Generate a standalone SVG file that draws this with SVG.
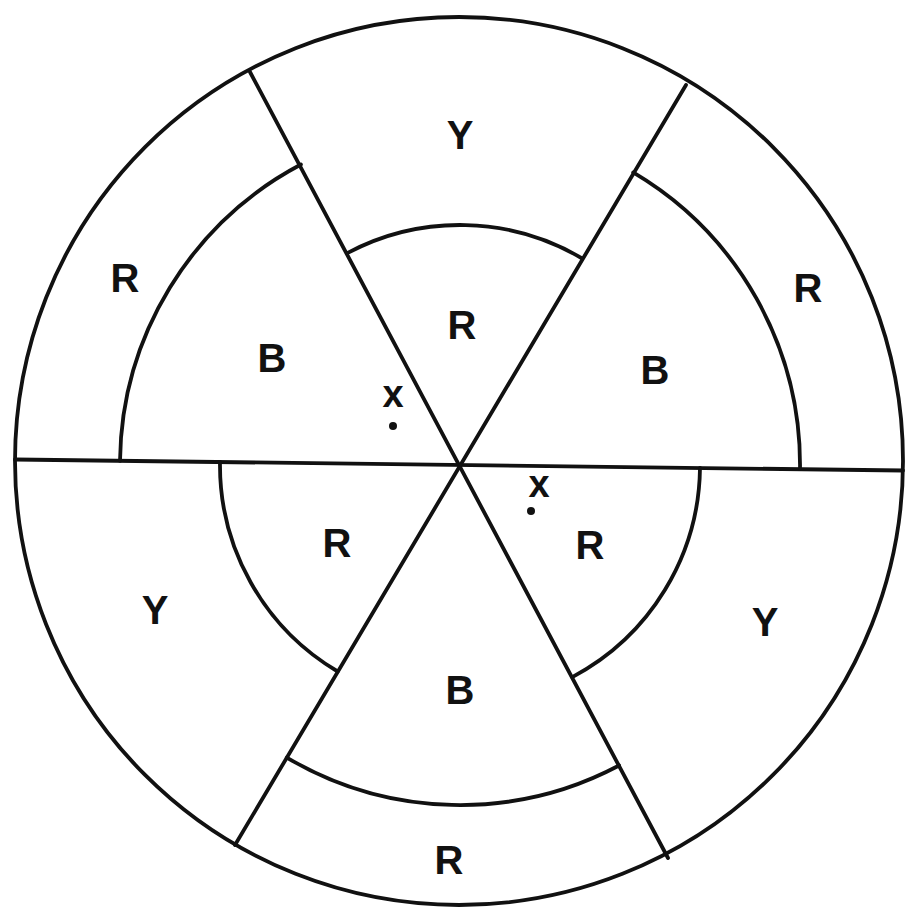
<svg xmlns="http://www.w3.org/2000/svg" width="905" height="909" viewBox="0 0 905 909">
<style>
.ln{fill:none;stroke:#111;stroke-width:3.8;stroke-linecap:round}
.lb{font-family:"Liberation Sans",Arial,sans-serif;font-weight:bold;font-size:40px;fill:#111;text-anchor:middle;dominant-baseline:central}
.xm{font-family:"Liberation Sans",Arial,sans-serif;font-weight:bold;font-size:38px;fill:#111;text-anchor:middle;dominant-baseline:central}
</style>
<rect width="905" height="909" fill="#fff"/>
<g id="connectors">
<circle class="ln" cx="459" cy="461" r="444"/>
<line class="ln" x1="15" y1="459.5" x2="903" y2="470.5"/>
<line class="ln" x1="250" y1="72" x2="668" y2="858"/>
<line class="ln" x1="686" y1="85" x2="235" y2="845"/>
<path class="ln" d="M347.7,252.9 A240,240 0 0 1 582.3,258.5"/>
<path class="ln" d="M120,460.8 A340,340 0 0 1 300.9,164.5"/>
<path class="ln" d="M633.2,172.4 A340,340 0 0 1 800,469.2"/>
<path class="ln" d="M700,468 A240,240 0 0 1 572.3,677.1"/>
<path class="ln" d="M619.1,765.5 A340,340 0 0 1 286.8,757.6"/>
<path class="ln" d="M337.7,671.5 A240,240 0 0 1 220,462"/>
</g>
<g id="top-outer"><text class="lb" x="460" y="135">Y</text></g>
<g id="top-inner"><text class="lb" x="462" y="325">R</text></g>
<g id="upperleft-outer"><text class="lb" x="125" y="278">R</text></g>
<g id="upperleft-inner"><text class="lb" x="272" y="358">B</text></g>
<g id="upperright-outer"><text class="lb" x="808" y="288">R</text></g>
<g id="upperright-inner"><text class="lb" x="655" y="370">B</text></g>
<g id="lowerleft-inner"><text class="lb" x="337" y="543">R</text></g>
<g id="lowerleft-outer"><text class="lb" x="155" y="610">Y</text></g>
<g id="lowerright-inner"><text class="lb" x="590" y="545">R</text></g>
<g id="lowerright-outer"><text class="lb" x="765" y="622">Y</text></g>
<g id="bottom-inner"><text class="lb" x="460" y="690">B</text></g>
<g id="bottom-outer"><text class="lb" x="449" y="860">R</text></g>
<g id="point-x1"><text class="xm" x="393" y="394">x</text><circle cx="393" cy="426" r="4" fill="#111"/></g>
<g id="point-x2"><text class="xm" x="539" y="484">x</text><circle cx="531" cy="511" r="4" fill="#111"/></g>
</svg>
